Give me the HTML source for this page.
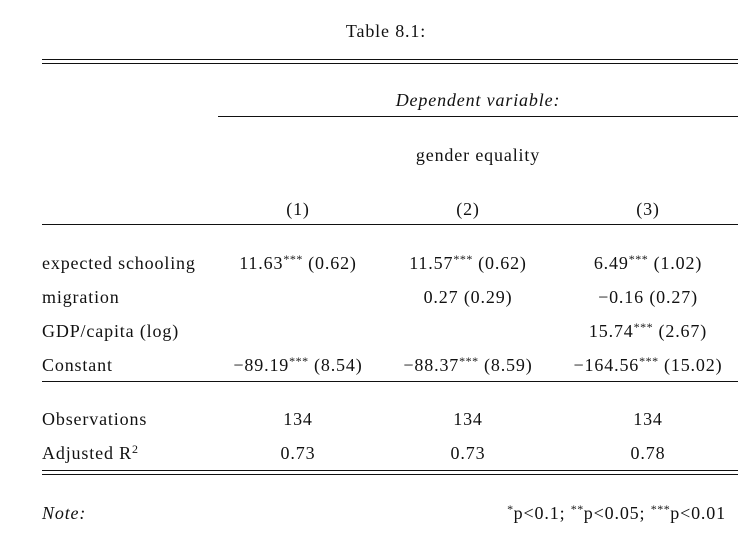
<!DOCTYPE html>
<html><head><meta charset="utf-8"><style>
body{margin:0;width:753px;height:538px;background:#fff;position:relative;overflow:hidden;font-family:"Liberation Serif",serif;font-size:18px;letter-spacing:0.85px;color:#111}
.t{position:absolute;white-space:nowrap;line-height:20px}
.c{transform:translateX(-50%)}
.r{transform:translateX(-100%)}
.l{position:absolute;background:#111;height:1.3px}
sup{font-size:12px;vertical-align:6px;line-height:0;letter-spacing:0.5px}
</style></head><body>
<div class="t c" style="left:386px;top:21px">Table 8.1:</div>
<div class="l" style="left:42px;width:696px;top:59px"></div>
<div class="l" style="left:42px;width:696px;top:63px"></div>
<div class="t c" style="left:478px;top:90px;font-style:italic">Dependent variable:</div>
<div class="l" style="left:218px;width:520px;top:116px"></div>
<div class="t c" style="left:478px;top:145px">gender equality</div>
<div class="t c" style="left:298px;top:199px">(1)</div>
<div class="t c" style="left:468px;top:199px">(2)</div>
<div class="t c" style="left:648px;top:199px">(3)</div>
<div class="l" style="left:42px;width:696px;top:224px"></div>

<div class="t" style="left:42px;top:253px">expected schooling</div>
<div class="t c" style="left:298px;top:253px">11.63<sup>***</sup> (0.62)</div>
<div class="t c" style="left:468px;top:253px">11.57<sup>***</sup> (0.62)</div>
<div class="t c" style="left:648px;top:253px">6.49<sup>***</sup> (1.02)</div>

<div class="t" style="left:42px;top:287px">migration</div>
<div class="t c" style="left:468px;top:287px">0.27 (0.29)</div>
<div class="t c" style="left:648px;top:287px">−0.16 (0.27)</div>

<div class="t" style="left:42px;top:321px">GDP/capita (log)</div>
<div class="t c" style="left:648px;top:321px">15.74<sup>***</sup> (2.67)</div>

<div class="t" style="left:42px;top:355px">Constant</div>
<div class="t c" style="left:298px;top:355px">−89.19<sup>***</sup> (8.54)</div>
<div class="t c" style="left:468px;top:355px">−88.37<sup>***</sup> (8.59)</div>
<div class="t c" style="left:648px;top:355px">−164.56<sup>***</sup> (15.02)</div>
<div class="l" style="left:42px;width:696px;top:381px"></div>

<div class="t" style="left:42px;top:409px">Observations</div>
<div class="t c" style="left:298px;top:409px">134</div>
<div class="t c" style="left:468px;top:409px">134</div>
<div class="t c" style="left:648px;top:409px">134</div>

<div class="t" style="left:42px;top:443px">Adjusted R<sup>2</sup></div>
<div class="t c" style="left:298px;top:443px">0.73</div>
<div class="t c" style="left:468px;top:443px">0.73</div>
<div class="t c" style="left:648px;top:443px">0.78</div>
<div class="l" style="left:42px;width:696px;top:470px"></div>
<div class="l" style="left:42px;width:696px;top:474px"></div>

<div class="t" style="left:42px;top:503px;font-style:italic">Note:</div>
<div class="t r" style="left:726px;top:503px"><sup>*</sup>p&lt;0.1; <sup>**</sup>p&lt;0.05; <sup>***</sup>p&lt;0.01</div>
</body></html>
